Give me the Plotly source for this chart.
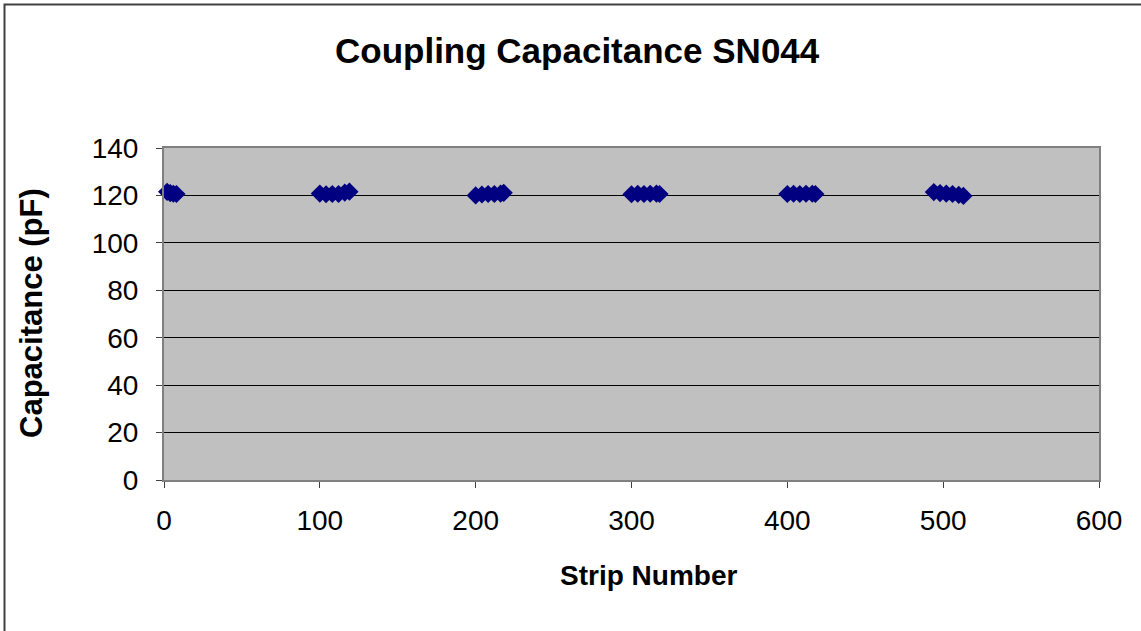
import plotly.graph_objects as go

# Data
strip_1 = [2, 4, 6, 8]
cap_1 = [121.5, 121.0, 120.7, 120.6]
strip_2 = [100, 104, 108, 112, 116, 119]
cap_2 = [120.8, 120.5, 120.6, 120.6, 121.2, 121.6]
strip_3 = [200, 204, 208, 212, 216, 218]
cap_3 = [120.0, 120.4, 120.6, 120.6, 120.8, 121.1]
strip_4 = [300, 304, 308, 312, 316, 318]
cap_4 = [120.5, 120.7, 120.6, 120.7, 120.8, 120.6]
strip_5 = [400, 404, 408, 412, 416, 418]
cap_5 = [120.6, 120.7, 120.6, 120.7, 120.7, 120.6]
strip_6 = [494, 498, 502, 506, 510, 513]
cap_6 = [121.4, 121.0, 120.8, 120.6, 120.2, 119.8]

strips = strip_1 + strip_2 + strip_3 + strip_4 + strip_5 + strip_6
caps = cap_1 + cap_2 + cap_3 + cap_4 + cap_5 + cap_6

FONT = "Liberation Sans, Arial, sans-serif"
L, R, T, B = 164, 1099, 148, 480
W, H = 1141, 631

def px(xp):
    return (xp - L) / (R - L)

def py(yp):
    return (B - yp) / (B - T)

fig = go.Figure()
fig.add_trace(go.Scatter(
    x=strips, y=caps, mode="markers",
    marker=dict(symbol="diamond", size=14, color="#000080",
                line=dict(width=0)),
    showlegend=False, cliponaxis=False,
))

fig.update_layout(
    width=W, height=H,
    margin=dict(l=L, r=W - R, t=T, b=H - B, pad=0),
    paper_bgcolor="white",
    plot_bgcolor="#C0C0C0",
    font=dict(family=FONT, size=28, color="black"),
    xaxis=dict(range=[0, 600], tickvals=[0, 100, 200, 300, 400, 500, 600],
               showgrid=False, zeroline=False,
               showline=True, linecolor="#808080", linewidth=2, mirror=True,
               ticks="outside", ticklen=6, tickcolor="#404040", tickwidth=1,
               ticklabelstandoff=8,
               tickfont=dict(size=28)),
    yaxis=dict(range=[0, 140], tickvals=[0, 20, 40, 60, 80, 100, 120, 140],
               showgrid=True, gridcolor="black", gridwidth=1,
               zeroline=False,
               showline=True, linecolor="#808080", linewidth=2, mirror=True,
               ticks="outside", ticklen=6, tickcolor="#404040", tickwidth=1,
               ticklabelstandoff=12,
               tickfont=dict(size=28)),
    annotations=[
        dict(text="<b>Coupling Capacitance SN044</b>", x=px(577), y=py(50),
             xref="paper", yref="paper", showarrow=False,
             xanchor="center", yanchor="middle", font=dict(size=35)),
        dict(text="<b>Strip Number</b>", x=px(648), y=py(575),
             xref="paper", yref="paper", showarrow=False,
             xanchor="center", yanchor="middle", font=dict(size=28)),
        dict(text="<b>Capacitance (pF)</b>", x=px(31), y=py(313),
             xref="paper", yref="paper", showarrow=False, textangle=-90,
             xanchor="center", yanchor="middle", font=dict(size=31)),
    ],
    shapes=[
        dict(type="rect", xref="paper", yref="paper",
             x0=px(4.5), y0=py(700), x1=px(1200), y1=py(4.5),
             line=dict(color="#404040", width=2), fillcolor="rgba(0,0,0,0)",
             layer="above"),
    ],
)

fig.write_html("out.html")
